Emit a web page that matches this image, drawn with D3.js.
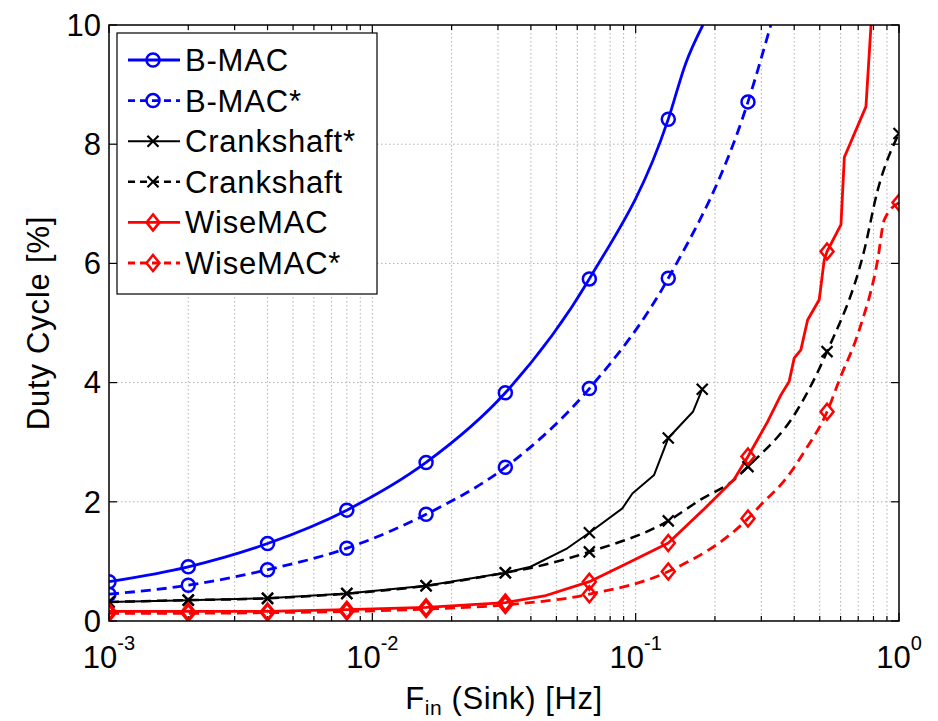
<!DOCTYPE html>
<html>
<head>
<meta charset="utf-8">
<script src="https://cdn.jsdelivr.net/npm/d3@7"></script>
<style>
  body { margin: 0; background: #fff; }
  text { font-family: "Liberation Sans", Arial, sans-serif; fill: #000; }
</style>
</head>
<body>
<svg id="chart" width="938" height="721"></svg>
<script>
// marker frequencies (Hz)
const markFreq = [0.001, 0.002, 0.004, 0.008, 0.016, 0.032, 0.0667, 0.133, 0.267, 0.533, 1.0];

// duty cycle at the marker frequencies (%)
const bmacMarks = [0.66, 0.91, 1.30, 1.86, 2.66, 3.83, 5.74, 8.42];
const bmacStarMarks = [0.45, 0.60, 0.86, 1.22, 1.79, 2.58, 3.90, 5.75, 8.71];
const crankStarMarks = [0.32, 0.35, 0.38, 0.46, 0.59, 0.81, 1.48, 3.07];
const crankMarks = [0.32, 0.35, 0.38, 0.46, 0.59, 0.81, 1.16, 1.68, 2.59, 4.52, 8.18];
const wiseMarks = [0.16, 0.16, 0.16, 0.19, 0.23, 0.31, 0.66, 1.31, 2.76, 6.20];
const wiseStarMarks = [0.13, 0.13, 0.14, 0.16, 0.20, 0.27, 0.45, 0.83, 1.72, 3.51, 7.02];

// extra line points between markers [freq, duty]
const bmacExtra = [[0.155, 9.36], [0.18, 10.0]];
const bmacStarExtra = [[0.326, 10.0]];
const crankStarExtra = [[0.0399, 0.91], [0.055, 1.22], [0.089, 1.89], [0.0972, 2.14], [0.1175, 2.45], [0.165, 3.51]];
const crankStarEnd = [[0.179, 3.89]];
const crankExtra = [[0.0399, 0.89], [0.177, 2.04], [0.2366, 2.37], [0.411, 3.54], [0.738, 6.22], [0.83, 7.23]];
const wiseExtra = [[0.045, 0.42], [0.093, 0.97], [0.182, 1.88], [0.2366, 2.38], [0.3167, 3.34], [0.3558, 3.79],
  [0.3828, 4.02], [0.3999, 4.41], [0.424, 4.55], [0.4497, 5.05], [0.4977, 5.39], [0.52, 6.06], [0.602, 6.65],
  [0.62, 7.78], [0.749, 8.63], [0.783, 10.0]];
const wiseStarExtra = [[0.299, 1.95], [0.377, 2.42], [0.4365, 2.84], [0.593, 4.04], [0.706, 4.88], [0.83, 6.06], [0.879, 6.73]];

const yTicks = [0, 2, 4, 6, 8, 10];
const xDecades = [-3, -2, -1, 0];

const series = [
  { name: 'B-MAC', color: '#0000ff', dash: null, marker: 'circle', width: 2.8, marks: bmacMarks, extra: bmacExtra, ends: [], smooth: true },
  { name: 'B-MAC*', color: '#0000ff', dash: '10,6', marker: 'circle', width: 2.8, marks: bmacStarMarks, extra: bmacStarExtra, ends: [], smooth: true },
  { name: 'Crankshaft*', color: '#000000', dash: null, marker: 'x', width: 2, marks: crankStarMarks, extra: crankStarExtra, ends: crankStarEnd, smooth: false },
  { name: 'Crankshaft', color: '#000000', dash: '10,6', marker: 'x', width: 2.5, marks: crankMarks, extra: crankExtra, ends: [], smooth: true },
  { name: 'WiseMAC', color: '#ff0000', dash: null, marker: 'diamond', width: 2.8, marks: wiseMarks, extra: wiseExtra, ends: [], smooth: false },
  { name: 'WiseMAC*', color: '#ff0000', dash: '10,6', marker: 'diamond', width: 2.8, marks: wiseStarMarks, extra: wiseStarExtra, ends: [], smooth: true }
];

const plot = { left: 109, right: 899, top: 25, bottom: 621 };
const font = 31;

const svg = d3.select('#chart');

const x = d3.scaleLog().domain([0.001, 1]).range([plot.left, plot.right]);
const y = d3.scaleLinear().domain([0, 10]).range([plot.bottom, plot.top]);

// minor x positions
const xMinor = [];
xDecades.slice(0, -1).forEach(d => {
  for (let k = 2; k <= 9; k++) xMinor.push(k * Math.pow(10, d));
});
const xMajor = xDecades.map(d => Math.pow(10, d));

// grid
const grid = svg.append('g')
  .attr('stroke', '#b0b0b0')
  .attr('stroke-width', 1)
  .attr('stroke-dasharray', '1.5,2.5');

grid.selectAll('.vg')
  .data(xMinor.concat(xMajor.slice(1, -1)))
  .enter().append('line')
  .attr('x1', d => x(d)).attr('x2', d => x(d))
  .attr('y1', plot.top).attr('y2', plot.bottom);

grid.selectAll('.hg')
  .data(yTicks.slice(1, -1))
  .enter().append('line')
  .attr('x1', plot.left).attr('x2', plot.right)
  .attr('y1', d => y(d)).attr('y2', d => y(d));

// ticks inside the box
const ticks = svg.append('g').attr('stroke', '#000').attr('stroke-width', 1.2);
xMajor.forEach(v => {
  ticks.append('line').attr('x1', x(v)).attr('x2', x(v)).attr('y1', plot.bottom).attr('y2', plot.bottom - 8);
  ticks.append('line').attr('x1', x(v)).attr('x2', x(v)).attr('y1', plot.top).attr('y2', plot.top + 8);
});
xMinor.forEach(v => {
  ticks.append('line').attr('x1', x(v)).attr('x2', x(v)).attr('y1', plot.bottom).attr('y2', plot.bottom - 5);
  ticks.append('line').attr('x1', x(v)).attr('x2', x(v)).attr('y1', plot.top).attr('y2', plot.top + 5);
});
yTicks.forEach(v => {
  ticks.append('line').attr('x1', plot.left).attr('x2', plot.left + 8).attr('y1', y(v)).attr('y2', y(v));
  ticks.append('line').attr('x1', plot.right).attr('x2', plot.right - 8).attr('y1', y(v)).attr('y2', y(v));
});

// lines
svg.append('clipPath').attr('id', 'clip')
  .append('rect')
  .attr('x', plot.left).attr('y', plot.top)
  .attr('width', plot.right - plot.left).attr('height', plot.bottom - plot.top);

const smoothLine = d3.line().x(d => x(d[0])).y(d => y(d[1])).curve(d3.curveMonotoneX);
const rawLine = d3.line().x(d => x(d[0])).y(d => y(d[1]));

const lines = svg.append('g').attr('clip-path', 'url(#clip)');

function markPoints(s) {
  return s.marks.map((v, i) => [markFreq[i], v]).concat(s.ends);
}

function drawMarker(g, type, cx, cy, color) {
  if (type === 'circle') {
    g.append('circle').attr('cx', cx).attr('cy', cy).attr('r', 6.5)
      .attr('fill', 'none').attr('stroke', color).attr('stroke-width', 2.5);
  } else if (type === 'diamond') {
    g.append('path')
      .attr('d', `M${cx},${cy - 8}L${cx + 6.5},${cy}L${cx},${cy + 8}L${cx - 6.5},${cy}Z`)
      .attr('fill', 'none').attr('stroke', color).attr('stroke-width', 2.5);
  } else {
    g.append('path')
      .attr('d', `M${cx - 5.5},${cy - 5.5}L${cx + 5.5},${cy + 5.5}M${cx - 5.5},${cy + 5.5}L${cx + 5.5},${cy - 5.5}`)
      .attr('fill', 'none').attr('stroke', color).attr('stroke-width', 2.2);
  }
}

series.forEach(s => {
  const pts = markPoints(s).concat(s.extra).sort((a, b) => a[0] - b[0]);
  lines.append('path')
    .datum(pts)
    .attr('d', s.smooth ? smoothLine : rawLine)
    .attr('fill', 'none')
    .attr('stroke', s.color)
    .attr('stroke-width', s.width)
    .attr('stroke-linejoin', 'round')
    .attr('stroke-dasharray', s.dash);
});

series.forEach(s => {
  const g = lines.append('g');
  markPoints(s).forEach(p => drawMarker(g, s.marker, x(p[0]), y(p[1]), s.color));
});

// box
svg.append('rect')
  .attr('x', plot.left).attr('y', plot.top)
  .attr('width', plot.right - plot.left).attr('height', plot.bottom - plot.top)
  .attr('fill', 'none').attr('stroke', '#000').attr('stroke-width', 1.5);

// y tick labels
svg.selectAll('.ylab')
  .data(yTicks)
  .enter().append('text')
  .attr('x', plot.left - 8)
  .attr('y', d => y(d))
  .attr('dy', '0.35em')
  .attr('text-anchor', 'end')
  .style('font-size', font + 'px')
  .text(d => d);

// x tick labels 10^n
xDecades.forEach(d => {
  const t = svg.append('text')
    .attr('x', x(Math.pow(10, d)))
    .attr('y', 668)
    .attr('text-anchor', 'middle')
    .style('font-size', font + 'px');
  t.append('tspan').text('10');
  t.append('tspan').attr('dy', -18).style('font-size', '20px').text(d === 0 ? '0' : String(d));
});

// axis titles
const xt = svg.append('text')
  .attr('x', (plot.left + plot.right) / 2)
  .attr('y', 709)
  .attr('text-anchor', 'middle')
  .style('font-size', font + 'px')
  .style('letter-spacing', '0.6px');
xt.append('tspan').text('F');
xt.append('tspan').attr('dy', 6).style('font-size', '21px').text('in');
xt.append('tspan').attr('dy', -6).text(' (Sink) [Hz]');

svg.append('text')
  .attr('transform', `translate(49,${(plot.top + plot.bottom) / 2}) rotate(-90)`)
  .attr('text-anchor', 'middle')
  .style('font-size', font + 'px')
  .style('letter-spacing', '0.8px')
  .text('Duty Cycle [%]');

// legend
const legend = svg.append('g');
legend.append('rect')
  .attr('x', 117).attr('y', 33).attr('width', 260).attr('height', 261)
  .attr('fill', '#fff').attr('stroke', '#000').attr('stroke-width', 1.2);

const rowY = d3.scalePoint().domain(series.map(s => s.name)).range([60, 263]);

series.forEach(s => {
  const cy = rowY(s.name);
  legend.append('line')
    .attr('x1', 128).attr('x2', 180).attr('y1', cy).attr('y2', cy)
    .attr('stroke', s.color).attr('stroke-width', s.width)
    .attr('stroke-dasharray', s.dash ? '7,5' : null);
  drawMarker(legend, s.marker, 153, cy, s.color);
  legend.append('text')
    .attr('x', 185).attr('y', cy + 11)
    .style('font-size', font + 'px')
    .style('letter-spacing', '0.8px')
    .text(s.name);
});
</script>
</body>
</html>
